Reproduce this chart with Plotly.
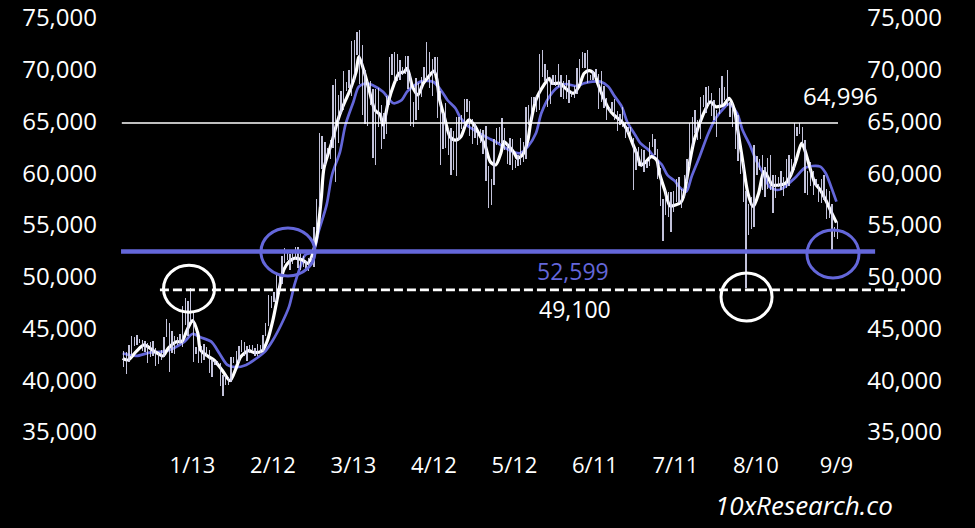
import plotly.graph_objects as go
import pandas as pd

# ---------------- data ----------------
tick_dates = ["2024-01-13", "2024-02-12", "2024-03-13", "2024-04-12", "2024-05-12",
              "2024-06-11", "2024-07-11", "2024-08-10", "2024-09-09"]
tick_labels = ["1/13", "2/12", "3/13", "4/12", "5/12", "6/11", "7/11", "8/10", "9/9"]
y_ticks = [35000, 40000, 45000, 50000, 55000, 60000, 65000, 70000, 75000]

# daily price range bars (high / low), first bar drawn at candle_start
candle_start = "2023-12-18 08:00"
candle_high = [
    42800, 42700, 43400, 44300, 44200, 44400, 44000, 43900, 43800, 43600, 43700, 43800, 43100, 42600, 42900,
    44200, 45900, 45500, 44800, 44300, 44200, 44500, 47200, 47900, 47700, 48900, 46500, 43200, 43100, 43300, 43500,
    43200, 42900, 42100, 41900, 41900, 41700, 40500, 40500, 40300, 42200, 42200, 42800, 43300, 43900, 43700,
    43300, 43400, 43400, 43100, 43500, 43400, 44400, 45500, 48200, 48100, 48500, 50200, 50300, 52000, 52800,
    52500, 52200, 52400, 52900, 52900, 52300, 52000, 51500, 51800, 51900, 54800, 57500, 63900, 63600,
    63000, 62400, 63200, 68500, 69100, 67600, 67900, 69900, 68800, 70000, 72800, 72900, 73600, 73800, 72400, 70000,
    68900, 68900, 68100, 68100, 68200, 66600, 65800, 67500, 71200, 71500, 71700, 71500, 70900, 70300, 71300,
    71300, 69600, 66900, 69200, 68700, 69300, 70300, 72700, 71700, 71000, 71200, 71200, 67900, 65800, 66800,
    64300, 64400, 64100, 65400, 65400, 65600, 67200, 67200, 67000, 65200, 64800, 63900, 64300, 64200, 64600,
    60700, 59400, 63300, 64400, 64500, 65300, 64400, 62900, 63400, 63300, 61300, 61800, 63400, 63000, 66400, 66600,
    67400, 67400, 67600, 71500, 71900, 70600, 70000, 69200, 69500, 69500, 70600, 69500, 68900, 69500, 69000,
    67900, 68400, 70200, 71000, 71700, 71600, 71900, 69500, 69900, 70100, 69600, 69900, 68400, 67300, 66400,
    66900, 67200, 66000, 65700, 66400, 65000, 64500, 64500, 63400, 62300, 62500, 62300, 62200, 61200, 63000,
    63800, 63300, 62300, 60500, 57500, 58400, 58200, 58200, 58300, 59400, 59600, 58500, 59800, 61400, 64900, 65400,
    66100, 65100, 67400, 67600, 68300, 68400, 67800, 67100, 66100, 68200, 69400, 68300, 70000, 66900, 66800,
    65600, 65600, 62100, 61100, 58300, 57000, 57700, 62700, 61700, 61400, 61800, 60600, 61500, 61800, 59800, 59800,
    59600, 60200, 59600, 61400, 61800, 61400, 64900, 64500, 64900, 64500, 63200, 60200, 61100, 60200, 59400,
    59000, 59400, 59800, 58500, 58300, 57000, 54800, 55300,
]
candle_low = [
    41300, 40600, 41800, 42200, 43300, 43400, 43600, 42800, 42700, 41700, 42200, 42300, 41400, 41600, 42000,
    42200, 44200, 40800, 42600, 42500, 43400, 43600, 43200, 45300, 44300, 45600, 41800, 42500, 41700, 41700, 42000,
    42200, 40700, 40300, 41500, 41500, 39400, 38500, 39500, 39500, 39800, 41700, 41600, 41800, 42700, 42300,
    41900, 42600, 42900, 42300, 42300, 42600, 42800, 44300, 45200, 47000, 47600, 47700, 48400, 49300, 51300,
    51600, 50700, 51200, 51700, 50800, 50700, 50900, 50600, 50600, 51300, 50900, 54500, 56700, 60400,
    60800, 61600, 61400, 62400, 59200, 62900, 65700, 66100, 67900, 68200, 67500, 68800, 71400, 68600, 65600, 64800,
    64600, 66600, 61500, 60800, 64500, 62300, 63300, 63800, 66600, 69500, 68900, 68900, 69000, 69500, 69600,
    68100, 64600, 64500, 65100, 66100, 67400, 68900, 69100, 68200, 67500, 69600, 65300, 60800, 62300, 62400,
    61800, 59800, 60300, 59700, 63200, 64300, 64500, 65900, 63600, 62800, 63400, 62700, 62900, 61900, 59300,
    56600, 56900, 58900, 62700, 62900, 62900, 62200, 60900, 60800, 60300, 60500, 60700, 60800, 61100, 61400, 64700,
    65100, 66700, 65900, 66100, 69300, 68900, 66400, 66700, 68500, 68400, 68300, 67400, 67200, 67200, 66800,
    67400, 67300, 67700, 68600, 70200, 70200, 68700, 69000, 69000, 69200, 66200, 66900, 66300, 65100, 65900,
    66000, 65100, 64100, 64700, 64500, 63400, 63900, 63200, 58400, 60300, 60700, 60600, 60100, 60500, 60700,
    62500, 61800, 59400, 56800, 53500, 56000, 55800, 54300, 56300, 57200, 57100, 56600, 57700, 59200, 60600, 62500,
    63900, 63200, 63300, 66400, 65800, 66600, 65500, 65100, 63500, 65700, 66700, 67100, 66500, 65400, 64500,
    62300, 61200, 59900, 57200, 48900, 54000, 54600, 54800, 59800, 60300, 58400, 57700, 58500, 58400, 56200, 57600,
    58700, 58400, 57800, 58600, 58800, 59800, 60300, 63600, 63800, 62800, 58100, 57900, 58800, 57900, 58800,
    57200, 57100, 57400, 55600, 55700, 52600, 53800, 53600,
]

# short moving average (white line)
white_dates = [
    "2023-12-18", "2023-12-20", "2023-12-23", "2023-12-26", "2023-12-29", "2023-12-31",
    "2024-01-02", "2024-01-04", "2024-01-07", "2024-01-09", "2024-01-11", "2024-01-13", "2024-01-15",
    "2024-01-16", "2024-01-19", "2024-01-21", "2024-01-24", "2024-01-27", "2024-01-29", "2024-01-31",
    "2024-02-03", "2024-02-05", "2024-02-08", "2024-02-10", "2024-02-12", "2024-02-14", "2024-02-16",
    "2024-02-18", "2024-02-20", "2024-02-23", "2024-02-25", "2024-02-28",
    "2024-03-01", "2024-03-02", "2024-03-05", "2024-03-07", "2024-03-09", "2024-03-12", "2024-03-14",
    "2024-03-15", "2024-03-17", "2024-03-19", "2024-03-21", "2024-03-23", "2024-03-24", "2024-03-26",
    "2024-03-28", "2024-03-30",
    "2024-04-01", "2024-04-02", "2024-04-04", "2024-04-06", "2024-04-08", "2024-04-10", "2024-04-12",
    "2024-04-13", "2024-04-14", "2024-04-16", "2024-04-18", "2024-04-20", "2024-04-22", "2024-04-24",
    "2024-04-25", "2024-04-27", "2024-04-29",
    "2024-05-01", "2024-05-03", "2024-05-05", "2024-05-07", "2024-05-08", "2024-05-10", "2024-05-12",
    "2024-05-13", "2024-05-15", "2024-05-17", "2024-05-18", "2024-05-20", "2024-05-23", "2024-05-25",
    "2024-05-26", "2024-05-29", "2024-05-31",
    "2024-06-03", "2024-06-05", "2024-06-07", "2024-06-09", "2024-06-11", "2024-06-12", "2024-06-14",
    "2024-06-16", "2024-06-18", "2024-06-21", "2024-06-23", "2024-06-25", "2024-06-27", "2024-06-28",
    "2024-06-30",
    "2024-07-02", "2024-07-04", "2024-07-05", "2024-07-07", "2024-07-09", "2024-07-11", "2024-07-13",
    "2024-07-14", "2024-07-16", "2024-07-18", "2024-07-21", "2024-07-24", "2024-07-26", "2024-07-29",
    "2024-07-31",
    "2024-08-02", "2024-08-03", "2024-08-05", "2024-08-07", "2024-08-09", "2024-08-11", "2024-08-13",
    "2024-08-15", "2024-08-16", "2024-08-19", "2024-08-21", "2024-08-23", "2024-08-25", "2024-08-27",
    "2024-08-28", "2024-08-30",
    "2024-09-01", "2024-09-03", "2024-09-05", "2024-09-07", "2024-09-09",
]
white_values = [
    42120, 41960, 42770, 43410, 42930, 42610,
    42350, 43100, 43730, 43730, 44860, 45760, 44540, 42930, 42280, 41960, 41000, 39960, 41000, 42280,
    42860, 42670, 42860, 43890, 45830, 48400, 50660, 51460, 51790, 51620, 51300, 53390,
    57580, 60480, 63050, 64980, 66430, 68210, 69810, 71260, 69810, 67880, 66110, 65630, 64660, 66910,
    68530, 69660,
    69810, 70140, 68370, 67560, 68690, 69330, 69880, 69170, 67240, 65310, 63530, 63210, 63530, 64830,
    65150, 64660, 63700,
    62730, 61120, 60800, 62000, 63050, 62570, 61930, 61450, 61770, 63210, 64830, 67080, 68530, 69170,
    68690, 68690, 68210,
    67730, 68370, 69660, 69910, 69490, 68690, 67400, 66280, 65630, 64980, 64180, 62890, 61600, 60800,
    61120,
    61600, 61280, 60000, 58380, 56850, 56940, 57180, 57740, 60640, 63210, 65470, 66910, 66430, 66600,
    67240,
    66110, 64500, 61280, 58070, 56770, 58070, 60150, 59350, 58870, 58870, 59030, 59830, 61280, 62890,
    62410, 60640,
    59030, 58380, 57420, 56290, 55230,
]

# longer moving average (purple line)
purple_dates = [
    "2023-12-18", "2023-12-23", "2023-12-28",
    "2024-01-02", "2024-01-06", "2024-01-10", "2024-01-13", "2024-01-16", "2024-01-20", "2024-01-23",
    "2024-01-26", "2024-01-29",
    "2024-02-02", "2024-02-05", "2024-02-09", "2024-02-12", "2024-02-15", "2024-02-18", "2024-02-20",
    "2024-02-22", "2024-02-24", "2024-02-27", "2024-02-29",
    "2024-03-03", "2024-03-05", "2024-03-08", "2024-03-10", "2024-03-13", "2024-03-15", "2024-03-18",
    "2024-03-20", "2024-03-24", "2024-03-26", "2024-03-28", "2024-03-31",
    "2024-04-02", "2024-04-05", "2024-04-07", "2024-04-10", "2024-04-12", "2024-04-15", "2024-04-17",
    "2024-04-20", "2024-04-22", "2024-04-25", "2024-04-27", "2024-04-30",
    "2024-05-03", "2024-05-06", "2024-05-10", "2024-05-14", "2024-05-17", "2024-05-20", "2024-05-22",
    "2024-05-25", "2024-05-28", "2024-05-31",
    "2024-06-04", "2024-06-07", "2024-06-10", "2024-06-13", "2024-06-16", "2024-06-18", "2024-06-21",
    "2024-06-23", "2024-06-26", "2024-06-28",
    "2024-07-01", "2024-07-03", "2024-07-06", "2024-07-08", "2024-07-11", "2024-07-12", "2024-07-15",
    "2024-07-17", "2024-07-20", "2024-07-23", "2024-07-26", "2024-07-29", "2024-07-31",
    "2024-08-03", "2024-08-05", "2024-08-08", "2024-08-10", "2024-08-13", "2024-08-15", "2024-08-18",
    "2024-08-20", "2024-08-23", "2024-08-25", "2024-08-28", "2024-08-31",
    "2024-09-03", "2024-09-05", "2024-09-07", "2024-09-09",
]
purple_values = [
    42610, 42350, 42670,
    42770, 43100, 43730, 44470, 44150, 43730, 42610, 41480, 41260,
    41480, 41960, 42770, 43890, 45340, 47110, 49210, 50820, 52100, 52420, 54360,
    56940, 59830, 62090, 64660, 66910, 68370, 68690, 68530, 67880, 67240, 66760, 67080,
    67880, 68530, 68850, 68920, 68790, 67880, 67080, 66280, 65310, 64500, 64180, 63700,
    63300, 62890, 62250, 61930, 62570, 63860, 65790, 67400, 68300, 68620,
    68430, 68690, 68850, 68850, 68370, 67560, 66430, 64980, 63700, 62890,
    62250, 61600, 60800, 59830, 59190, 58800, 58220, 59670, 61600, 63700, 65310, 66280, 66690,
    65790, 64180, 62570, 61280, 59830, 58700, 58380, 58540, 59190, 59670, 60480, 60700,
    60640, 60000, 58700, 57260,
]

# reference levels: label text and the height at which each line is drawn in the picture
level_labels = ["64,996", "52,599", "49,100"]
level_lines = [64850, 52430, 48730]

# ---------------- styling ----------------
PURPLE = "#6467DA"
FONT = "Open Sans"

candle_dates = pd.date_range(candle_start, periods=len(candle_high), freq="D")
candle_span = [h - l for h, l in zip(candle_high, candle_low)]

fig = go.Figure()

fig.add_trace(go.Bar(
    x=candle_dates, y=candle_span, base=candle_low,
    width=0.5 * 86400000,
    marker=dict(color="rgba(215,215,242,0.9)", line=dict(width=0)),
    yaxis="y2", hoverinfo="skip", showlegend=False,
))
fig.add_trace(go.Scatter(
    x=purple_dates, y=purple_values, mode="lines",
    line=dict(color=PURPLE, width=2.7, shape="spline", smoothing=0.8),
    showlegend=False, hoverinfo="skip",
))
fig.add_trace(go.Scatter(
    x=white_dates, y=white_values, mode="lines",
    line=dict(color="white", width=3.2, shape="spline", smoothing=0.8),
    showlegend=False, hoverinfo="skip",
))

shapes = [
    dict(type="line", xref="x", yref="y", x0="2023-12-17 16:00", x1="2024-09-09 14:00",
         y0=level_lines[0], y1=level_lines[0], line=dict(color="white", width=1.6)),
    dict(type="line", xref="x", yref="y", x0="2023-12-17 09:00", x1="2024-09-23 10:00",
         y0=level_lines[1], y1=level_lines[1], line=dict(color=PURPLE, width=4.5)),
    dict(type="line", xref="x", yref="y", x0="2023-12-31 21:00", x1="2024-10-04 14:00",
         y0=level_lines[2], y1=level_lines[2], line=dict(color="white", width=2.8, dash="9px,4px")),
]

def ellipse(xc, yc, rx, ry, color):
    return dict(type="circle", xref="x", yref="y", xsizemode="pixel", ysizemode="pixel",
                xanchor=xc, yanchor=yc, x0=-rx, x1=rx, y0=-ry, y1=ry,
                line=dict(color=color, width=3))

shapes += [
    ellipse("2024-01-11 17:00", 48850, 25.5, 23.5, "white"),
    ellipse("2024-08-06 12:00", 48050, 25.5, 24, "white"),
    ellipse("2024-02-17 14:00", 52400, 27, 24, PURPLE),
    ellipse("2024-09-07 17:00", 52200, 26, 24, PURPLE),
]

annotations = [
    dict(x="2024-09-10 12:00", y=67510, xref="x", yref="y", text=level_labels[0], showarrow=False,
         font=dict(family=FONT, size=24, color="white"), xanchor="center", yanchor="middle"),
    dict(x="2024-06-02 19:00", y=50560, xref="x", yref="y", text=level_labels[1], showarrow=False,
         font=dict(family=FONT, size=23, color=PURPLE), xanchor="center", yanchor="middle"),
    dict(x="2024-06-03 14:00", y=46890, xref="x", yref="y", text=level_labels[2], showarrow=False,
         font=dict(family=FONT, size=23, color="white"), xanchor="center", yanchor="middle"),
    dict(x=0.833, y=-0.1236, xref="paper", yref="paper", text="<i>10xResearch.co</i>", showarrow=False,
         font=dict(family=FONT, size=26, color="white"), xanchor="center", yanchor="middle"),
]

y_range = [33261, 76256]
axis_font = dict(family=FONT, size=24, color="white")

fig.update_layout(
    width=975, height=528,
    paper_bgcolor="black", plot_bgcolor="black",
    margin=dict(l=98, r=30, t=5, b=78, autoexpand=False),
    shapes=shapes, annotations=annotations,
    bargap=0,
    xaxis=dict(
        type="date", range=["2023-12-08 19:00", "2024-10-19 11:00"],
        tickvals=tick_dates, ticktext=tick_labels, automargin=False,
        showgrid=False, zeroline=False, showline=False, ticks="",
        tickfont=dict(family=FONT, size=22, color="white"),
    ),
    yaxis=dict(
        range=y_range, tickvals=y_ticks, tickformat=",", automargin=False,
        showgrid=False, zeroline=False, showline=False, ticks="",
        tickfont=axis_font,
    ),
    yaxis2=dict(
        range=y_range, tickvals=y_ticks, tickformat=",", overlaying="y", side="right",
        ticklabelposition="inside", ticklabeloverflow="allow", automargin=False,
        showgrid=False, zeroline=False, showline=False, ticks="",
        tickfont=axis_font,
    ),
)

fig.write_html(
    "out.html",
    config={"displayModeBar": False},
    post_script="document.body.style.margin='0';document.body.style.background='black';",
)
